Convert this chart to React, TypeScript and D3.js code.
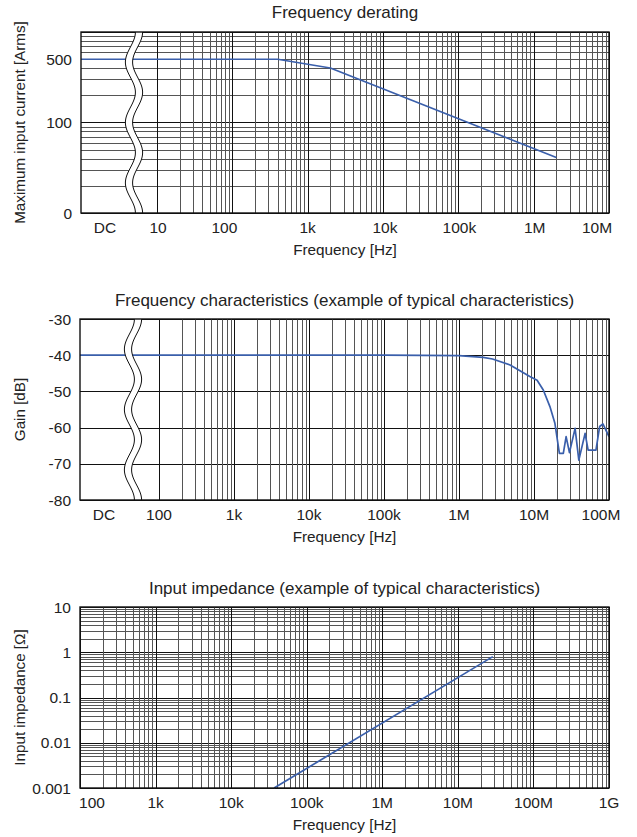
import React from "react";
import * as d3 from "d3";

// ---------- Data ----------
// Frequency derating (0 = DC)
const derFreq = [0, 400, 2000, 2e6];
const derCurrent = [500, 500, 400, 41];
const derXTicks = [10, 100, 1e3, 1e4, 1e5, 1e6, 1e7];
const derXLabels = ["10", "100", "1k", "10k", "100k", "1M", "10M"];
const derYTicks = [10, 100, 500];
const derYLabels = ["0", "100", "500"];

// Frequency characteristics (0 = DC)
const gainFreq = [0, 1e5, 1e6, 2.1e6, 2.8e6, 4.8e6, 6.5e6, 8.8e6, 11e6, 13.3e6, 16.3e6, 19e6, 21.8e6, 24.6e6, 26.8e6, 29.7e6, 35.3e6, 39.6e6, 48e6, 52.7e6, 67e6, 75e6, 83e6, 1e8];
const gainDb = [-40, -40, -40.1, -40.6, -41.05, -42.7, -44.3, -45.9, -46.9, -49.6, -54.2, -58.8, -67.1, -67.1, -62.5, -66.9, -60.2, -69, -61.6, -66.2, -66.2, -59.7, -59, -62.5];
const gainXTicks = [100, 1e3, 1e4, 1e5, 1e6, 1e7, 1e8];
const gainXLabels = ["100", "1k", "10k", "100k", "1M", "10M", "100M"];
const gainYTicks = [-30, -40, -50, -60, -70, -80];
const gainYLabels = ["-30", "-40", "-50", "-60", "-70", "-80"];

// Input impedance
const impFreq = [3.7e4, 2.9e7];
const impOhm = [0.001, 0.8];
const impXTicks = [1e2, 1e3, 1e4, 1e5, 1e6, 1e7, 1e8, 1e9];
const impXLabels = ["100", "1k", "10k", "100k", "1M", "10M", "100M", "1G"];
const impYTicks = [10, 1, 0.1, 0.01, 0.001];
const impYLabels = ["10", "1", "0.1", "0.01", "0.001"];

const FONT = "'Liberation Sans', Arial, Helvetica, sans-serif";
const BLUE = "#3a5fab";

type Box = { left: number; right: number; top: number; bottom: number };

function logLines(lo: number, hi: number) {
  const out: { v: number; major: boolean }[] = [];
  for (let e = Math.floor(Math.log10(lo)); e <= Math.ceil(Math.log10(hi)); e++) {
    for (let m = 1; m <= 9; m++) {
      const v = m * Math.pow(10, e);
      if (v >= lo * 0.999 && v <= hi * 1.001) out.push({ v, major: m === 1 });
    }
  }
  return out;
}

function Wave({ box, cx }: { box: Box; cx: number }) {
  const h = box.bottom - box.top;
  const A = 5;
  const half = 3.6;
  const pts = d3.range(box.top, box.bottom + 0.5, 1);
  const fx = (y: number) => cx + A * Math.cos((2 * Math.PI * 3 * (y - box.top)) / h);
  const left = pts.map((y) => [fx(y) - half, y] as [number, number]);
  const right = pts.map((y) => [fx(y) + half, y] as [number, number]);
  const line = d3.line();
  const fill = line([...left, ...right.slice().reverse()]) + "Z";
  return (
    <g>
      <path d={fill} fill="#fff" stroke="none" />
      <path d={line(left) || ""} fill="none" stroke="#111" strokeWidth={1} />
      <path d={line(right) || ""} fill="none" stroke="#111" strokeWidth={1} />
    </g>
  );
}

type PanelProps = {
  box: Box;
  title: string;
  titleY: number;
  yLabel: string;
  yLabelX: number;
  x: d3.ScaleLogarithmic<number, number>;
  y: any;
  xGrid: { v: number; major: boolean }[];
  yGrid: { v: number; major: boolean }[];
  xTicks: number[];
  xLabels: string[];
  xLabelDx: number[];
  yTicks: number[];
  yLabels: string[];
  xs: number[];
  ys: number[];
  dcLabel?: boolean;
  waveX?: number;
};

function Panel(p: PanelProps) {
  const { box, x, y } = p;
  const px = (f: number) => (f === 0 ? box.left : x(f));
  const line = d3
    .line<number>()
    .x((_, i) => px(p.xs[i]))
    .y((_, i) => y(p.ys[i]));
  const cxMid = (box.left + box.right) / 2;
  const cyMid = (box.top + box.bottom) / 2;
  return (
    <g fontFamily={FONT} fill="#222">
      <text x={cxMid} y={p.titleY} textAnchor="middle" fontSize={17}>
        {p.title}
      </text>
      {/* grid */}
      {p.yGrid.map((g, i) => (
        <line
          key={"h" + i}
          x1={box.left}
          x2={box.right}
          y1={Math.round(y(g.v)) + 0.5}
          y2={Math.round(y(g.v)) + 0.5}
          stroke={g.major ? "#111" : "#555"}
          strokeWidth={1}
        />
      ))}
      {p.xGrid.map((g, i) => (
        <line
          key={"v" + i}
          y1={box.top}
          y2={box.bottom}
          x1={Math.round(x(g.v)) + 0.5}
          x2={Math.round(x(g.v)) + 0.5}
          stroke={g.major ? "#111" : "#555"}
          strokeWidth={1}
        />
      ))}
      <path d={line(p.xs) || ""} fill="none" stroke={BLUE} strokeWidth={1.7} strokeLinejoin="round" />
      {p.waveX !== undefined && <Wave box={box} cx={p.waveX} />}
      <rect
        x={box.left}
        y={box.top}
        width={box.right - box.left}
        height={box.bottom - box.top}
        fill="none"
        stroke="#111"
        strokeWidth={1.4}
      />
      {/* y ticks */}
      {p.yTicks.map((t, i) => (
        <text key={"yt" + i} x={box.left - 9} y={y(t) + 5.5} textAnchor="end" fontSize={15.5}>
          {p.yLabels[i]}
        </text>
      ))}
      {/* x ticks */}
      {p.dcLabel && (
        <text x={box.left + 24} y={box.bottom + 20} textAnchor="middle" fontSize={15.5}>
          DC
        </text>
      )}
      {p.xTicks.map((t, i) => (
        <text key={"xt" + i} x={x(t) + p.xLabelDx[i]} y={box.bottom + 20} textAnchor="middle" fontSize={15.5}>
          {p.xLabels[i]}
        </text>
      ))}
      <text x={cxMid} y={box.bottom + 42} textAnchor="middle" fontSize={15.3}>
        Frequency [Hz]
      </text>
      <text
        transform={`translate(${p.yLabelX},${cyMid}) rotate(-90)`}
        textAnchor="middle"
        fontSize={15.2}
      >
        {p.yLabel}
      </text>
    </g>
  );
}

export default function App() {
  const b1: Box = { left: 81, right: 609, top: 32, bottom: 213 };
  const b2: Box = { left: 80, right: 609, top: 319, bottom: 500 };
  const b3: Box = { left: 80, right: 609, top: 607, bottom: 788 };

  const x1 = d3.scaleLog().domain([10, 1e7]).range([157, 609]);
  const y1 = d3.scaleLog().domain([10, 1000]).range([b1.bottom, b1.top]);
  const x2 = d3.scaleLog().domain([100, 1e8]).range([159, 609]);
  const y2 = d3.scaleLinear().domain([-80, -30]).range([b2.bottom, b2.top]);
  const x3 = d3.scaleLog().domain([100, 1e9]).range([b3.left, b3.right]);
  const y3 = d3.scaleLog().domain([0.001, 10]).range([b3.bottom, b3.top]);

  return (
    <svg
      width={637}
      height={837}
      style={{ position: "absolute", left: 0, top: 0, background: "#fff" }}
    >
      <rect width={637} height={837} fill="#fff" />
      <Panel
        box={b1}
        title="Frequency derating"
        titleY={18}
        yLabel="Maximum input current [Arms]"
        yLabelX={25}
        x={x1}
        y={y1}
        xGrid={logLines(10, 1e7)}
        yGrid={logLines(10, 1000)}
        xTicks={derXTicks}
        xLabels={derXLabels}
        xLabelDx={[1, -8, 0, 2, 1, 1, -12]}
        yTicks={derYTicks}
        yLabels={derYLabels}
        xs={derFreq}
        ys={derCurrent}
        dcLabel
        waveX={134}
      />
      <Panel
        box={b2}
        title="Frequency characteristics (example of typical characteristics)"
        titleY={306}
        yLabel="Gain [dB]"
        yLabelX={25}
        x={x2}
        y={y2}
        xGrid={logLines(100, 1e8)}
        yGrid={gainYTicks.map((v) => ({ v, major: true }))}
        xTicks={gainXTicks}
        xLabels={gainXLabels}
        xLabelDx={[0, 0, 0, 0, 0, 0, -8]}
        yTicks={gainYTicks}
        yLabels={gainYLabels}
        xs={gainFreq}
        ys={gainDb}
        dcLabel
        waveX={133}
      />
      <Panel
        box={b3}
        title="Input impedance (example of typical characteristics)"
        titleY={594}
        yLabel="Input impedance [Ω]"
        yLabelX={25}
        x={x3}
        y={y3}
        xGrid={logLines(100, 1e9)}
        yGrid={logLines(0.001, 10)}
        xTicks={impXTicks}
        xLabels={impXLabels}
        xLabelDx={[12, 0, 0, 0, 0, 0, 0, 0]}
        yTicks={impYTicks}
        yLabels={impYLabels}
        xs={impFreq}
        ys={impOhm}
      />
    </svg>
  );
}
